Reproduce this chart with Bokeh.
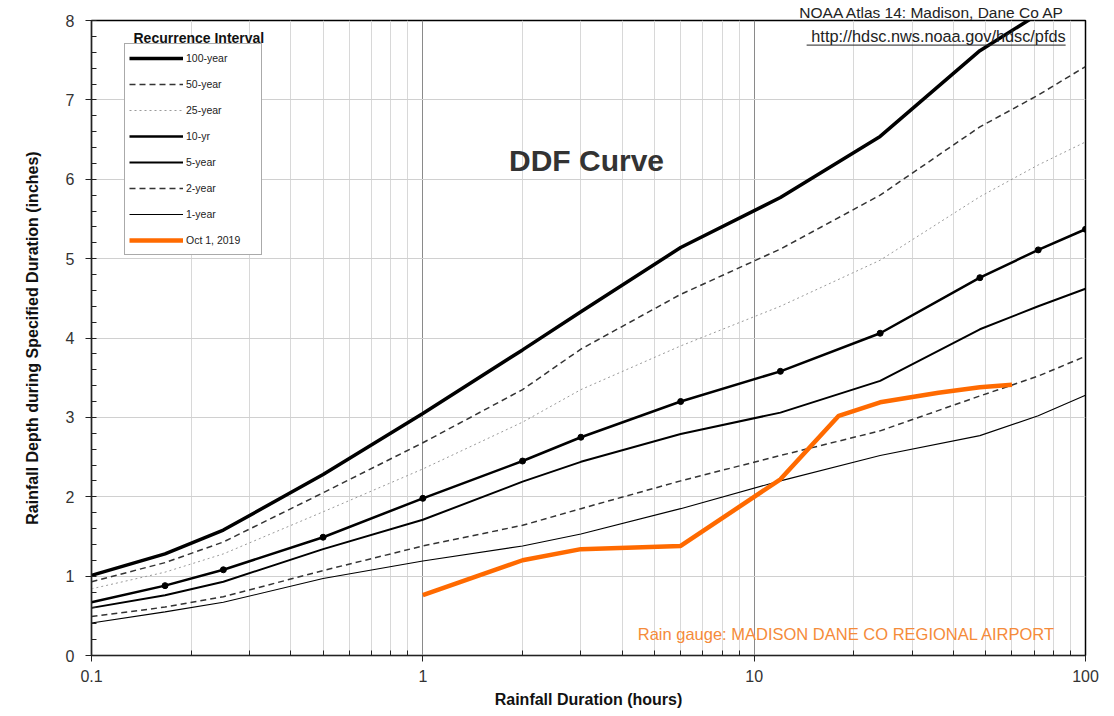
from bokeh.plotting import figure
from bokeh.models import Legend, LegendItem, Label, FixedTicker, PrintfTickFormatter
from bokeh.embed import file_html
from bokeh.resources import INLINE

# ---------------- data ----------------
durations = [0.1, 0.1667, 0.25, 0.5, 1, 2, 3, 6, 12, 24, 48, 72, 100]
yr100 = [1.01, 1.28, 1.58, 2.28, 3.05, 3.85, 4.33, 5.14, 5.77, 6.54, 7.62, 8.08, 8.45]
yr50 = [0.93, 1.17, 1.43, 2.05, 2.68, 3.35, 3.86, 4.55, 5.12, 5.80, 6.66, 7.06, 7.42]
yr25 = [0.84, 1.05, 1.28, 1.81, 2.35, 2.94, 3.35, 3.90, 4.40, 4.98, 5.78, 6.18, 6.47]
yr10 = [0.67, 0.88, 1.08, 1.49, 1.98, 2.45, 2.75, 3.20, 3.58, 4.06, 4.76, 5.11, 5.37]
yr5 = [0.60, 0.76, 0.93, 1.34, 1.71, 2.19, 2.44, 2.79, 3.06, 3.46, 4.11, 4.40, 4.62]
yr2 = [0.49, 0.61, 0.74, 1.07, 1.38, 1.64, 1.85, 2.20, 2.52, 2.83, 3.27, 3.52, 3.77]
yr1 = [0.41, 0.55, 0.67, 0.97, 1.19, 1.38, 1.53, 1.85, 2.20, 2.52, 2.77, 3.02, 3.28]

oct_durations = [1, 2, 3, 6, 12, 18, 24, 36, 48, 60]
oct_depth = [0.76, 1.20, 1.34, 1.38, 2.22, 3.02, 3.19, 3.31, 3.38, 3.41]

x_ticks = [0.1, 1, 10, 100]
x_tick_labels = ["0.1", "1", "10", "100"]
y_ticks = [0, 1, 2, 3, 4, 5, 6, 7, 8]

FONT = "Liberation Sans"

# ---------------- figure ----------------
p = figure(width=1106, height=710, x_axis_type="log",
           x_range=(0.1, 100), y_range=(0, 8),
           output_backend="svg", toolbar_location=None,
           min_border_left=91, min_border_top=20,
           min_border_right=21, min_border_bottom=53,
           title="NOAA Atlas 14: Madison, Dane Co AP")
p.title.align = "right"
p.title.text_font = FONT
p.title.text_font_size = "15.5px"
p.title.text_font_style = "normal"
p.title.text_color = "#222222"
p.title.standoff = 0
p.title.offset = 20
p.background_fill_color = "white"
p.border_fill_color = "white"
p.outline_line_color = "black"
p.outline_line_width = 1.5

x_minor = [m * d for d in (0.1, 1, 10) for m in range(2, 10)]
p.xaxis.ticker = FixedTicker(ticks=x_ticks, minor_ticks=x_minor)
p.xaxis.formatter = PrintfTickFormatter(format="%g")
p.xaxis.major_label_overrides = {t: l for t, l in zip(x_ticks, x_tick_labels)}
y_minor = [i / 5 for i in range(0, 41)]
p.yaxis.ticker = FixedTicker(ticks=y_ticks, minor_ticks=y_minor)

for ax in (p.xaxis, p.yaxis):
    ax.axis_line_color = "#222222"
    ax.axis_line_width = 1.2
    ax.major_tick_line_color = "#222222"
    ax.minor_tick_line_color = "#222222"
    ax.major_tick_out = 6
    ax.major_tick_in = 0
    ax.minor_tick_in = 5
    ax.minor_tick_out = 0
    ax.major_label_text_font = FONT
    ax.major_label_text_font_size = "16px"
    ax.major_label_text_color = "#333333"
    ax.axis_label_text_font = FONT
    ax.axis_label_text_font_size = "16px"
    ax.axis_label_text_font_style = "bold"
    ax.axis_label_text_color = "#111111"

p.xaxis.axis_label = "Rainfall Duration (hours)"
p.yaxis.axis_label = "Rainfall Depth during Specified Duration (inches)"
p.xaxis.major_label_standoff = 8
p.xaxis.axis_label_standoff = 6
p.yaxis.major_label_standoff = 11
p.yaxis.axis_label_standoff = 22

p.xgrid.grid_line_color = "#8a8a8a"
p.xgrid.grid_line_width = 1
p.xgrid.minor_grid_line_color = "#d8d8d8"
p.xgrid.minor_grid_line_width = 1
p.ygrid.grid_line_color = "#d0d0d0"
p.ygrid.grid_line_width = 1

# ---------------- curves ----------------
r1 = p.line(durations, yr1, line_color="black", line_width=1.1)
r2 = p.line(durations, yr2, line_color="#333333", line_width=1.5, line_dash="6 4")
r5 = p.line(durations, yr5, line_color="black", line_width=2)
r10 = p.line(durations, yr10, line_color="black", line_width=2.5)
s10 = p.scatter(durations[1:], yr10[1:], size=6, color="black")
r25 = p.line(durations, yr25, line_color="#9a9a9a", line_width=1, line_dash="2 3")
r50 = p.line(durations, yr50, line_color="#333333", line_width=1.5, line_dash="6 4")
r100 = p.line(durations, yr100, line_color="black", line_width=3.5)
roct = p.line(oct_durations, oct_depth, line_color="#FF6A00", line_width=4.5)

legend = Legend(items=[
    LegendItem(label="100-year", renderers=[r100]),
    LegendItem(label="50-year", renderers=[r50]),
    LegendItem(label="25-year", renderers=[r25]),
    LegendItem(label="10-yr", renderers=[r10]),
    LegendItem(label="5-year", renderers=[r5]),
    LegendItem(label="2-year", renderers=[r2]),
    LegendItem(label="1-year", renderers=[r1]),
    LegendItem(label="Oct 1, 2019", renderers=[roct]),
], location=(33, 400))
legend.border_line_color = "#555555"
legend.border_line_width = 1
legend.background_fill_color = "white"
legend.background_fill_alpha = 1
legend.label_text_font = FONT
legend.label_text_font_size = "10.5px"
legend.label_text_color = "#222222"
legend.glyph_width = 54
legend.glyph_height = 20
legend.label_height = 20
legend.label_width = 71
legend.label_standoff = 3
legend.spacing = 6
legend.padding = 4
legend.margin = 0
p.add_layout(legend)

# ---------------- annotations ----------------
p.add_layout(Label(x=0.1339, y=7.78, text="Recurrence Interval", text_font=FONT,
                   text_font_size="14px", text_font_style="bold", text_color="#111111",
                   text_baseline="middle", text_align="left"))
p.add_layout(Label(x=1.82, y=6.24, text="DDF Curve", text_font=FONT,
                   text_font_size="30px", text_font_style="bold", text_color="#333333",
                   text_baseline="middle", text_align="left"))
p.add_layout(Label(x=87.1, y=7.80, text="http://hdsc.nws.noaa.gov/hdsc/pfds", text_font=FONT,
                   text_font_size="16.3px", text_color="#222222",
                   text_baseline="middle", text_align="right"))
p.segment(x0=[14.4], y0=[7.69], x1=[87.1], y1=[7.69], line_color="#222222", line_width=1)
p.add_layout(Label(x=81.2, y=0.276, text="Rain gauge: MADISON DANE CO REGIONAL AIRPORT",
                   text_font=FONT, text_font_size="16.5px", text_color="#F58B3A",
                   text_baseline="middle", text_align="right"))

open("out.html", "w").write(file_html(p, INLINE))
